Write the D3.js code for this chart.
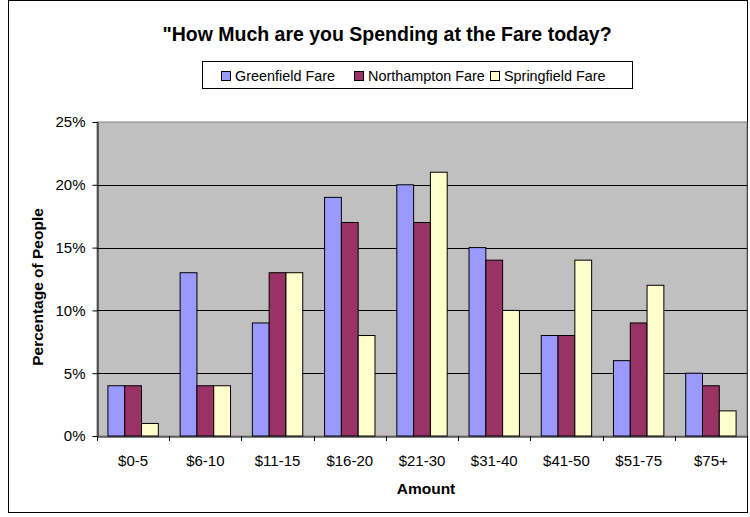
<!DOCTYPE html>
<html>
<head>
<meta charset="utf-8">
<script src="https://cdn.jsdelivr.net/npm/d3@7"></script>
<style>
  body { margin: 0; background: #fff; }
  svg { font-family: "Liberation Sans", Arial, sans-serif; }
</style>
</head>
<body>
<svg id="chart" width="750" height="517"></svg>
<script>
const categories = ["$0-5", "$6-10", "$11-15", "$16-20", "$21-30", "$31-40", "$41-50", "$51-75", "$75+"];
const seriesNames = ["Greenfield Fare", "Northampton Fare", "Springfield Fare"];
const greenfield = [4, 13, 9, 19, 20, 15, 8, 6, 5];
const northampton = [4, 4, 13, 17, 17, 14, 8, 9, 4];
const springfield = [1, 4, 13, 8, 21, 10, 14, 12, 2];
const yTicks = [0, 5, 10, 15, 20, 25];
const colors = ["#9999ff", "#993366", "#ffffcc"];

const allSeries = [greenfield, northampton, springfield];
const width = 750, height = 517;
const margin = { top: 122, right: 3, bottom: 81, left: 97 };

const svg = d3.select("#chart");

// outer frame
svg.append("rect")
  .attr("x", 8.5).attr("y", 0.5)
  .attr("width", width - 11).attr("height", height - 5)
  .attr("fill", "#fff").attr("stroke", "#000");

const x = d3.scaleBand()
  .domain(categories)
  .range([margin.left, width - margin.right]);

const x1 = d3.scaleBand()
  .domain(seriesNames)
  .range([0, x.bandwidth()])
  .paddingOuter(0.65)
  .paddingInner(0);

const y = d3.scaleLinear()
  .domain([0, 25])
  .range([height - margin.bottom, margin.top]);

// plot area
svg.append("rect")
  .attr("x", margin.left).attr("y", margin.top)
  .attr("width", width - margin.right - margin.left)
  .attr("height", y(0) - margin.top)
  .attr("fill", "#c0c0c0")
  .attr("stroke", "#808080");

// gridlines
svg.append("g")
  .selectAll("line")
  .data(yTicks.filter(d => d > 0 && d < 25))
  .join("line")
  .attr("x1", margin.left).attr("x2", width - margin.right)
  .attr("y1", d => Math.round(y(d)) + 0.5).attr("y2", d => Math.round(y(d)) + 0.5)
  .attr("stroke", "#000");

// bars
const groups = svg.append("g")
  .selectAll("g")
  .data(categories)
  .join("g")
  .attr("transform", d => `translate(${x(d)},0)`);

groups.selectAll("rect")
  .data((c, i) => allSeries.map((s, j) => ({ name: seriesNames[j], value: s[i], color: colors[j] })))
  .join("rect")
  .attr("x", d => x1(d.name))
  .attr("y", d => y(d.value))
  .attr("width", x1.bandwidth())
  .attr("height", d => y(0) - y(d.value))
  .attr("fill", d => d.color)
  .attr("stroke", "#000")
  .attr("stroke-width", 1);

// axes
const yAxis = svg.append("g")
  .attr("transform", `translate(${margin.left + 0.5},0)`)
  .call(d3.axisLeft(y).tickValues(yTicks).tickFormat(d => d + "%").tickSize(5).tickSizeOuter(0));
yAxis.selectAll("text").attr("font-size", 15).attr("fill", "#000").attr("dx", -4);

const xAxis = svg.append("g")
  .attr("transform", `translate(0,${y(0) + 0.5})`)
  .call(d3.axisBottom(x).tickSize(0).tickSizeOuter(0));
xAxis.selectAll("text").attr("font-size", 15).attr("fill", "#000").attr("dy", "1.75em");

// category separator ticks
svg.append("g")
  .selectAll("line")
  .data(categories.concat(["end"]))
  .join("line")
  .attr("x1", (d, i) => Math.round(margin.left + i * x.step()) + 0.5)
  .attr("x2", (d, i) => Math.round(margin.left + i * x.step()) + 0.5)
  .attr("y1", y(0)).attr("y2", y(0) + 5)
  .attr("stroke", "#000");

// title
svg.append("text")
  .attr("x", 387).attr("y", 41)
  .attr("text-anchor", "middle")
  .attr("font-size", 19.5).attr("font-weight", "bold")
  .text("\"How Much are you Spending at the Fare today?");

// axis titles
svg.append("text")
  .attr("x", 426).attr("y", 494)
  .attr("text-anchor", "middle")
  .attr("font-size", 15.5).attr("font-weight", "bold")
  .text("Amount");

svg.append("text")
  .attr("transform", `translate(43,${(margin.top + y(0)) / 2 + 8}) rotate(-90)`)
  .attr("text-anchor", "middle")
  .attr("font-size", 15.5).attr("font-weight", "bold")
  .text("Percentage of People");

// legend
const legend = svg.append("g");
legend.append("rect")
  .attr("x", 202.5).attr("y", 61.5)
  .attr("width", 430).attr("height", 27)
  .attr("fill", "#fff").attr("stroke", "#000");

const legendX = [221, 354, 490];
seriesNames.forEach((name, i) => {
  legend.append("rect")
    .attr("x", legendX[i] + 0.5).attr("y", 71.5)
    .attr("width", 9).attr("height", 9)
    .attr("fill", colors[i]).attr("stroke", "#000");
  legend.append("text")
    .attr("x", legendX[i] + 14).attr("y", 81)
    .attr("font-size", 14.4)
    .text(name);
});
</script>
</body>
</html>
